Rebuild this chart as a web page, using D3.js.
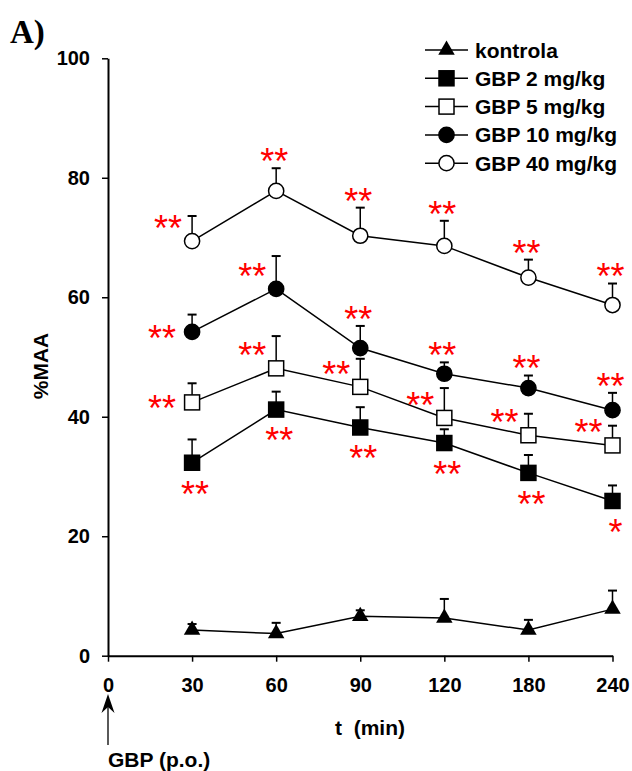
<!DOCTYPE html>
<html>
<head>
<meta charset="utf-8">
<script src="https://cdn.jsdelivr.net/npm/d3@7"></script>
<style>
  html, body { margin: 0; padding: 0; background: #fff; }
  svg { display: block; }
  text { font-family: "Liberation Sans", Arial, sans-serif; }
</style>
</head>
<body>
<svg id="chart" width="632" height="771"></svg>
<script>
// ---------- data ----------
const timeTicks = ["0", "30", "60", "90", "120", "180", "240"];
const sampleTimes = ["30", "60", "90", "120", "180", "240"];
const yTicks = [0, 20, 40, 60, 80, 100];

const seriesNames = ["kontrola", "GBP 2 mg/kg", "GBP 5 mg/kg", "GBP 10 mg/kg", "GBP 40 mg/kg"];
const seriesMarkers = ["triangle", "squareFilled", "squareOpen", "circleFilled", "circleOpen"];

const kontrola    = [4.3, 3.7, 6.6, 6.3, 4.3, 7.8];
const kontrolaErr = [1.0, 1.8, 1.0, 3.2, 1.7, 3.1];
const gbp2        = [32.3, 41.2, 38.2, 35.6, 30.6, 25.9];
const gbp2Err     = [3.9, 3.0, 3.4, 2.3, 3.0, 2.6];
const gbp5        = [42.4, 48.1, 45.0, 39.8, 36.9, 35.2];
const gbp5Err     = [3.2, 5.4, 4.7, 5.0, 3.6, 3.3];
const gbp10       = [54.2, 61.4, 51.5, 47.2, 44.8, 41.1];
const gbp10Err    = [2.9, 5.5, 3.7, 1.9, 2.1, 2.9];
const gbp40       = [69.4, 77.8, 70.3, 68.6, 63.3, 58.7];
const gbp40Err    = [4.2, 3.8, 4.7, 4.2, 3.0, 3.6];

// significance marks and where they sit relative to each point
const kontrolaSig = ["", "", "", "", "", ""];
const gbp2Sig   = ["**", "**", "**", "**", "**", "*"];
const gbp5Sig   = ["**", "**", "**", "**", "**", "**"];
const gbp10Sig  = ["**", "**", "**", "**", "**", "**"];
const gbp40Sig  = ["**", "**", "**", "**", "**", "**"];
const kontrolaSigPlace = ["", "", "", "", "", ""];
const gbp2SigPlace  = ["below", "below", "below", "below", "below", "below"];
const gbp5SigPlace  = ["left", "upleft", "upleft", "upleft", "upleft", "upleft"];
const gbp10SigPlace = ["left", "upleft", "above", "above", "above", "above"];
const gbp40SigPlace = ["upleft", "above", "above", "above", "above", "above"];

const seriesValues = [kontrola, gbp2, gbp5, gbp10, gbp40];
const seriesErrors = [kontrolaErr, gbp2Err, gbp5Err, gbp10Err, gbp40Err];
const seriesSig = [kontrolaSig, gbp2Sig, gbp5Sig, gbp10Sig, gbp40Sig];
const seriesSigPlace = [kontrolaSigPlace, gbp2SigPlace, gbp5SigPlace, gbp10SigPlace, gbp40SigPlace];

// ---------- layout ----------
const svg = d3.select("#chart");
const x = d3.scalePoint().domain(timeTicks).range([108, 612.5]);
const y = d3.scaleLinear().domain([0, 100]).range([655.7, 58.3]);

// title letter
svg.append("text").attr("x", 10).attr("y", 43)
  .style("font-family", '"Liberation Serif", "Times New Roman", serif')
  .style("font-weight", "bold").style("font-size", "33px").text("A)");

// axes
const yAxis = svg.append("g").attr("transform", `translate(${x("0")},0)`)
  .call(d3.axisLeft(y).tickValues(yTicks).tickSize(6).tickSizeOuter(0).tickPadding(12));
const xAxis = svg.append("g").attr("transform", `translate(0,${y(0)})`)
  .call(d3.axisBottom(x).tickSize(6).tickSizeOuter(0).tickPadding(16));
[yAxis, xAxis].forEach(g => {
  g.select(".domain").attr("stroke", "#000").attr("stroke-width", 2);
  g.selectAll(".tick line").attr("stroke", "#000").attr("stroke-width", 1.5);
  g.selectAll(".tick text").attr("fill", "#000")
    .style("font-family", '"Liberation Sans", Arial, sans-serif')
    .style("font-weight", "bold").style("font-size", "20px");
});

// axis titles
svg.append("text").attr("transform", "translate(47.5,366) rotate(-90)")
  .attr("text-anchor", "middle").style("font-weight", "bold").style("font-size", "21px")
  .text("%MAA");
svg.append("text").attr("x", 370).attr("y", 735).attr("text-anchor", "middle")
  .style("font-weight", "bold").style("font-size", "21px").style("white-space", "pre")
  .text("t  (min)");

// dosing arrow
svg.append("line").attr("x1", x("0")).attr("x2", x("0")).attr("y1", 706).attr("y2", 745)
  .attr("stroke", "#000").attr("stroke-width", 1.3);
svg.append("path")
  .attr("d", `M${x("0")},694 L${x("0") + 6.5},713 L${x("0")},707 L${x("0") - 6.5},713 Z`)
  .attr("fill", "#000");
svg.append("text").attr("x", 108).attr("y", 767)
  .style("font-weight", "bold").style("font-size", "21px").text("GBP (p.o.)");

// marker drawing
function drawMarker(g, type, cx, cy) {
  if (type === "triangle") {
    g.append("path").attr("d", d3.symbol(d3.symbolTriangle, 118)())
      .attr("transform", `translate(${cx},${cy})`).attr("fill", "#000");
  } else if (type.startsWith("square")) {
    const filled = type === "squareFilled";
    g.append("rect").attr("x", cx - 7.5).attr("y", cy - 7.5).attr("width", 15).attr("height", 15)
      .attr("fill", filled ? "#000" : "#fff").attr("stroke", "#000").attr("stroke-width", 1.5);
  } else {
    const filled = type === "circleFilled";
    g.append("circle").attr("cx", cx).attr("cy", cy).attr("r", 7.6)
      .attr("fill", filled ? "#000" : "#fff").attr("stroke", "#000").attr("stroke-width", 1.5);
  }
}

const line = d3.line().x((d, i) => x(sampleTimes[i])).y(d => y(d));

seriesValues.forEach((vals, s) => {
  const g = svg.append("g");
  // error bars (upper)
  vals.forEach((v, i) => {
    const cx = x(sampleTimes[i]);
    const top = y(v + seriesErrors[s][i]);
    g.append("line").attr("x1", cx).attr("x2", cx).attr("y1", y(v)).attr("y2", top)
      .attr("stroke", "#000").attr("stroke-width", 1.5);
    g.append("line").attr("x1", cx - 4.5).attr("x2", cx + 4.5).attr("y1", top).attr("y2", top)
      .attr("stroke", "#000").attr("stroke-width", 2);
  });
  g.append("path").datum(vals).attr("d", line)
    .attr("fill", "none").attr("stroke", "#000").attr("stroke-width", 1.5);
  vals.forEach((v, i) => drawMarker(g, seriesMarkers[s], x(sampleTimes[i]), y(v)));
});

// significance asterisks
const starSize = 36;
seriesValues.forEach((vals, s) => {
  vals.forEach((v, i) => {
    const lab = seriesSig[s][i];
    if (!lab) return;
    const px = x(sampleTimes[i]), py = y(v), top = y(v + seriesErrors[s][i]);
    let cx, cy;
    switch (seriesSigPlace[s][i]) {
      case "above": cx = px - 2; cy = top - 11; break;
      case "upleft": cx = px - 24; cy = py - 17; break;
      case "left": cx = px - 30; cy = py + 2; break;
      case "below": cx = px + 3; cy = py + 27; break;
    }
    svg.append("text").attr("x", cx).attr("y", cy + starSize * 0.47)
      .attr("text-anchor", "middle").attr("fill", "#ff0000")
      .style("font-size", starSize + "px").text(lab);
  });
});

// legend
const legend = svg.append("g");
seriesNames.forEach((name, k) => {
  const ry = 50 + k * 28.3;
  legend.append("line").attr("x1", 425).attr("x2", 468).attr("y1", ry).attr("y2", ry)
    .attr("stroke", "#000").attr("stroke-width", 1.5);
  drawMarker(legend, seriesMarkers[k], 446.5, ry);
  legend.append("text").attr("x", 475).attr("y", ry + 7.5)
    .style("font-weight", "bold").style("font-size", "21px").text(name);
});
</script>
</body>
</html>
